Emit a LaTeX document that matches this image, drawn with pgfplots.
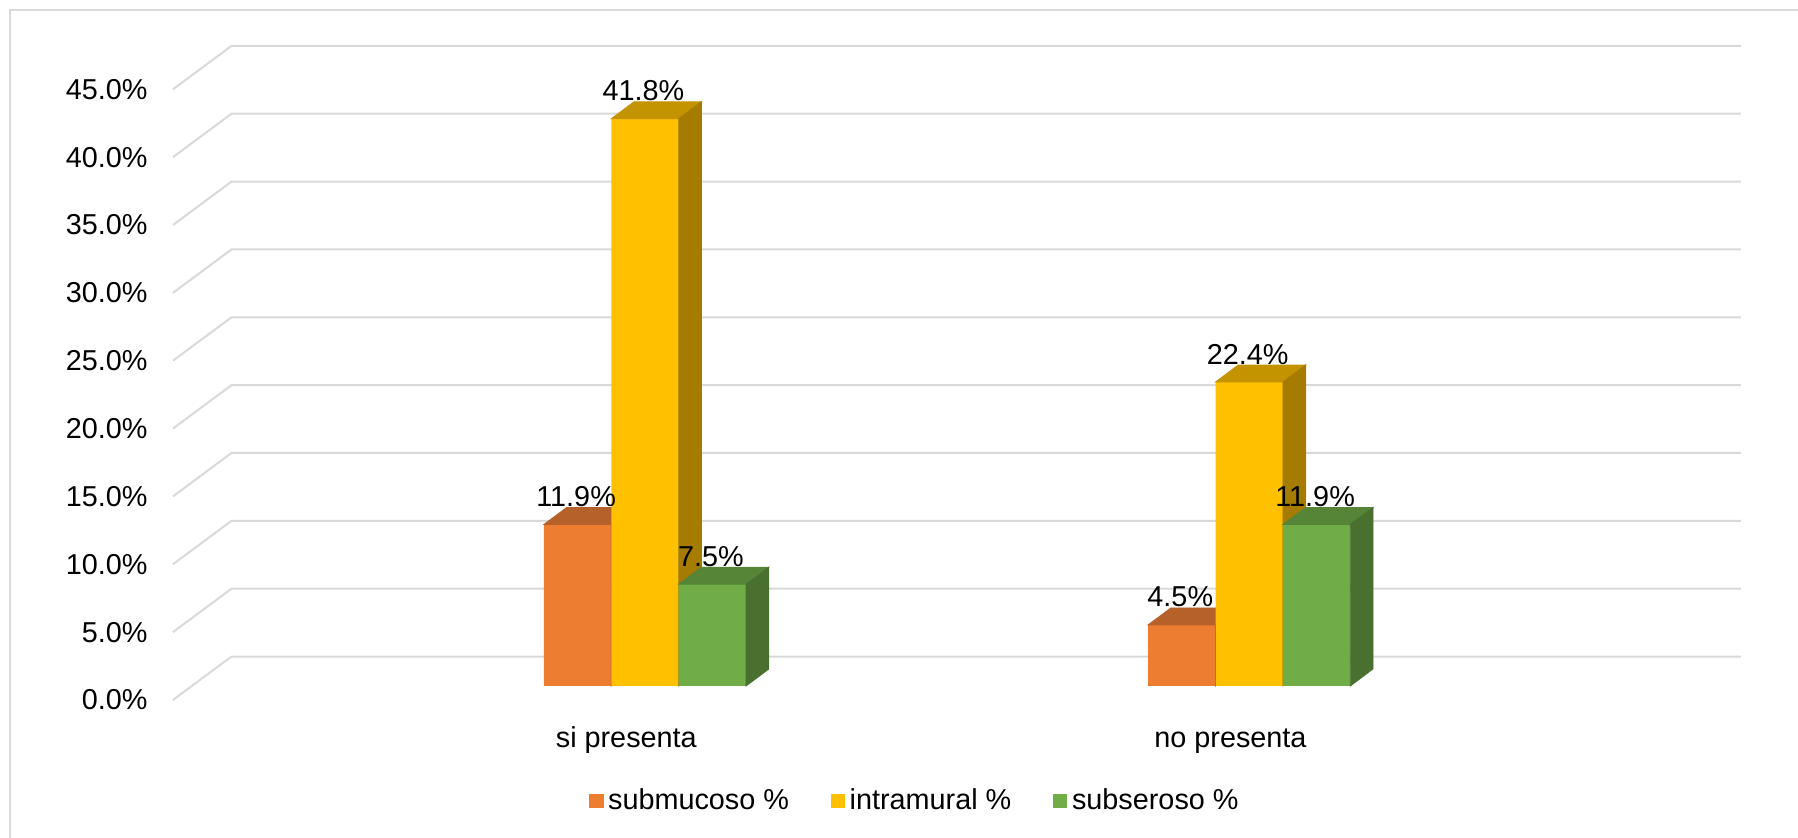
\documentclass[border=0pt]{standalone}
\usepackage{pgfplots}
\usepackage{pgfplotstable}
\pgfplotsset{compat=1.18}
\usepackage{fontspec}
\setmainfont{Liberation Sans}

\definecolor{cOr}{HTML}{ED7D31}
\definecolor{cOrT}{HTML}{B6602A}
\definecolor{cOrS}{HTML}{9A5120}
\definecolor{cYe}{HTML}{FFC000}
\definecolor{cYeT}{HTML}{C49400}
\definecolor{cYeS}{HTML}{A67C00}
\definecolor{cGr}{HTML}{70AD47}
\definecolor{cGrT}{HTML}{568537}
\definecolor{cGrS}{HTML}{4A7030}
\definecolor{cGrid}{HTML}{D9D9D9}

% category index: 0 = si presenta, 1 = no presenta ; v = percent
\pgfplotstableread{
x v
0 11.9
1 4.5
}\submucoso
\pgfplotstableread{
x v
0 41.8
1 22.4
}\intramural
\pgfplotstableread{
x v
0 7.5
1 11.9
}\subseroso

\pgfdeclareplotmark{nothing}{}
\newcommand\fs{\fontsize{14.4}{17.3}\selectfont}

\pgfplotsset{
  front/.style n args={2}{ybar, bar width=33.7pt, bar shift=#1, fill=#2, draw=none,
    legend image code/.code={\fill[##1] (0pt,-3.625pt) rectangle (7.25pt,3.625pt);}},
  faces/.style n args={3}{
    scatter, only marks, mark=nothing, forget plot, point meta=y,
    visualization depends on={\thisrow{v} \as \val},
    scatter/@pre marker code/.code={%
      \fill[#2] ({#1-16.85pt},0pt) -- ++(11.35pt,8.5pt) -- ++(33.7pt,0pt) -- ++(-11.35pt,-8.5pt) -- cycle;
      \fill[#3] ({#1+16.85pt},0pt) -- ++(11.35pt,8.5pt) -- ++(0pt,{-\val*6.785pt}) -- ++(-11.35pt,-8.5pt) -- cycle;
    },
    scatter/@post marker code/.code={},
  },
  lbl/.style={only marks, mark=nothing, forget plot, point meta=y,
    nodes near coords={\pgfmathprintnumber[fixed,fixed zerofill,precision=1,assume math mode=true]{\pgfplotspointmeta}\%},
    every node near coord/.append style={anchor=base, inner sep=0pt, xshift={#1-0.75pt}, yshift=9pt, font=\fs, text=black},
  },
}

\begin{document}
\begin{tikzpicture}
\begin{axis}[
  name=ax,
  x=302.1pt, y=6.785pt,
  xmin=-1.0366, xmax=1.9393,
  ymin=-11.201, ymax=50.553,
  axis line style={draw=none},
  major tick length=0pt,
  tick style={draw=none},
  clip=false,
  clip marker paths=true,
  xtick={0,1},
  xticklabels={si presenta, no presenta},
  xticklabel style={anchor=base, inner sep=0pt, yshift=45pt, font=\fs},
  ytick={-1.03,3.97,8.97,13.97,18.97,23.97,28.97,33.97,38.97,43.97},
  yticklabels={0.0\%,5.0\%,10.0\%,15.0\%,20.0\%,25.0\%,30.0\%,35.0\%,40.0\%,45.0\%},
  yticklabel style={anchor=east, inner sep=0pt, xshift=74pt, font=\fs},
  legend columns=3,
  legend style={draw=none, fill=none, font=\fs, at={(0.5095,0.0442)}, anchor=center,
    /tikz/every even column/.append style={column sep=18.5pt},
    nodes={inner sep=2.3pt}},
]
% chart frame
\draw[cGrid, line width=0.75pt] (axis cs:-1.0200,-11.201) -- (axis cs:-1.0200,49.816) -- (axis cs:1.9393,49.816);
% back-wall gridlines with their slanted left ends
\pgfplotsinvokeforeach{0,5,10,15,20,25,30,35,40,45}{
  \draw[cGrid, line width=1pt] (axis cs:-0.7503,#1-1.03) -- (axis cs:-0.6534,#1+2.17) -- (axis cs:1.8449,#1+2.17);
}
\addplot[front={-24.35pt}{cOr}] table[x=x,y=v] {\submucoso};
\addlegendentry{submucoso \%}
\addplot[faces={-24.35pt}{cOrT}{cOrS}] table[x=x,y=v] {\submucoso};
\addplot[front={9.35pt}{cYe}] table[x=x,y=v] {\intramural};
\addlegendentry{intramural \%}
\addplot[faces={9.35pt}{cYeT}{cYeS}] table[x=x,y=v] {\intramural};
\addplot[front={43.05pt}{cGr}] table[x=x,y=v] {\subseroso};
\addlegendentry{subseroso \%}
\addplot[faces={43.05pt}{cGrT}{cGrS}] table[x=x,y=v] {\subseroso};
% data labels on top
\addplot[lbl={-24.35pt}] table[x=x,y=v] {\submucoso};
\addplot[lbl={9.35pt}] table[x=x,y=v] {\intramural};
\addplot[lbl={43.05pt}] table[x=x,y=v] {\subseroso};
\end{axis}
\pgfresetboundingbox
\path[use as bounding box] (ax.south west) rectangle (ax.north east);
\end{tikzpicture}
\end{document}
